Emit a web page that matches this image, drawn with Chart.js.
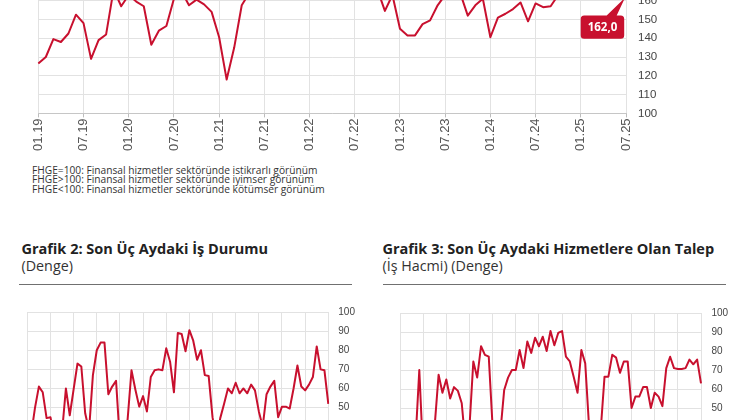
<!DOCTYPE html>
<html>
<head>
<meta charset="utf-8">
<script src="https://cdn.jsdelivr.net/npm/chart.js@4.4.1/dist/chart.umd.min.js"></script>
<style>
  html, body { margin:0; padding:0; background:#fff; }
  body { width:740px; height:420px; overflow:hidden; position:relative; font-family:'Open Sans', sans-serif; }
  canvas { position:absolute; }
  .notes { position:absolute; left:32px; top:165.8px; font-size:10.2px; line-height:9.4px; color:#333; white-space:nowrap; }
  .title { position:absolute; font-weight:700; font-size:14.5px; line-height:17px; color:#222; white-space:nowrap; }
  .sub { position:absolute; font-size:14.3px; line-height:17px; color:#333; white-space:nowrap; }
  .rule { position:absolute; height:0; border-top:1px solid #707070; }
</style>
</head>
<body>
<canvas id="c1" width="740" height="216" style="left:0;top:-57.4px;width:740px;height:216px;"></canvas>
<div class="notes">
  FHGE=100: Finansal hizmetler sektöründe istikrarlı görünüm<br>
  FHGE&gt;100: Finansal hizmetler sektöründe iyimser görünüm<br>
  FHGE&lt;100: Finansal hizmetler sektöründe kötümser görünüm
</div>
<div class="title" style="left:21.5px;top:239.5px;">Grafik 2: Son Üç Aydaki İş Durumu</div>
<div class="sub" style="left:21.5px;top:256.5px;">(Denge)</div>
<div class="rule" style="left:19px;top:283.5px;width:333px;"></div>
<div class="title" style="left:382.5px;top:239.5px;">Grafik 3: Son Üç Aydaki Hizmetlere Olan Talep</div>
<div class="sub" style="left:382.5px;top:256.5px;">(İş Hacmi) (Denge)</div>
<div class="rule" style="left:383px;top:283.5px;width:343px;"></div>
<canvas id="c3" width="370" height="250" style="left:370px;top:293.3px;width:370px;height:250px;"></canvas>
<canvas id="c2" width="370" height="262" style="left:0;top:286.7px;width:370px;height:262px;"></canvas>
<script>
// ---- categories (monthly, 01.19 - 07.25) ----
const months = [
 "01.19","02.19","03.19","04.19","05.19","06.19","07.19","08.19","09.19","10.19","11.19","12.19",
 "01.20","02.20","03.20","04.20","05.20","06.20","07.20","08.20","09.20","10.20","11.20","12.20",
 "01.21","02.21","03.21","04.21","05.21","06.21","07.21","08.21","09.21","10.21","11.21","12.21",
 "01.22","02.22","03.22","04.22","05.22","06.22","07.22","08.22","09.22","10.22","11.22","12.22",
 "01.23","02.23","03.23","04.23","05.23","06.23","07.23","08.23","09.23","10.23","11.23","12.23",
 "01.24","02.24","03.24","04.24","05.24","06.24","07.24","08.24","09.24","10.24","11.24","12.24",
 "01.25","02.25","03.25","04.25","05.25","06.25","07.25"
];

// ---- Grafik 1: FHGE ----
const fhge = [
 126.5,130,139.5,138,142.5,152.5,148,129,139,142,166,157,
 163,159.5,157,136.5,144,146.5,161,165,157.5,160.5,158,154,
 140.5,118,135,157.5,164,167,170,172,168,171,174,170,
 168,172,175,171,169,173,170,167,169,166,154.5,163,
 145,141.5,141.5,147.5,149.5,157.5,163,166,164,152,157.5,161,
 140.5,151,153,155.5,159,149,158.5,156.5,157,163,166,164,
 168,165,163,167,164,166,162
];

// ---- Grafik 2: Son Üç Aydaki İş Durumu (Denge) ----
const isDurumu = [
 32,36,50,61,58,44.5,45,34,30,37,60,46,
 59.5,73,71.5,47,38,67,80,84,84,57,61,64,
 32,28,44,69.5,59.5,50.5,56,48,66,69.5,70,69.5,
 81,74,58,89,88.5,79.5,90.5,85,75,80,67,66.5,
 45,32,44.5,52,60,57.5,63,57.5,60,57.5,62,59,
 48,40,57,61,64,45,50.5,50.5,49.5,60,72,61,
 59,62,66,82,70,69.5,52
];

// ---- Grafik 3: Son Üç Aydaki Hizmetlere Olan Talep (İş Hacmi) (Denge) ----
const talep = [
 35,38,33,30,32,70,25,30,32,41,67.5,58,
 65,55,61,59,52.5,30,40,74.5,66,82.5,78,77,
 40,30,37,59.5,66,70,70,80.5,71,85,79,87,
 82.5,87.5,80,90.5,83,89.5,90.5,77,74.5,66.5,58,80.5,
 73.5,40,32,30,38,66.5,66.5,78,76.5,68.5,74.5,74.5,
 50,56,56,61,61,50,58,56,51,71,77,71,
 70.5,70.5,71,75.5,73,75.5,63
];

const RED = '#c8102e';
const GRID = '#e2e2e2';
const isHalf = (i) => { const l = months[i]; return l && (l.startsWith('01.') || l.startsWith('07.')); };

Chart.defaults.font.family = "'Liberation Sans', Arial, sans-serif";

function baseOptions(o) {
  return {
    responsive:false, animation:false, devicePixelRatio:1,
    layout:{ padding:{ left:o.padLeft, right:0, top:o.padTop, bottom:0 } },
    plugins:{ legend:{display:false}, tooltip:{enabled:false} },
    elements:{ point:{ radius:0 }, line:{ borderWidth:2, tension:0, borderJoinStyle:'round' } },
    scales:{
      x:{
        type:'category',
        grid:{
          color:(c)=> isHalf(c.index) ? GRID : 'rgba(0,0,0,0)',
          tickColor:(c)=> isHalf(c.index) ? '#bdbdbd' : 'rgba(0,0,0,0)',
          tickLength:4, drawTicks:true
        },
        border:{ display:true, color:'#c6c6c6' },
        ticks:{
          autoSkip:false, maxRotation:90, minRotation:90, padding:1,
          color:'#555', font:{ size:o.xSize },
          callback:function(v,i){ return isHalf(i) ? months[i] : ''; }
        },
        afterFit:(s)=>{ s.height = o.xHeight; }
      },
      y:{
        position:'right', min:o.min, max:o.max,
        grid:{ color:GRID, drawTicks:false },
        border:{ display:false },
        ticks:{ stepSize:10, autoSkip:false, padding:o.yPad, color:'#444', font:{ size:o.ySize } },
        afterFit:(s)=>{ s.width = o.yWidth; }
      }
    }
  };
}

const calloutPlugin = {
  id:'callout',
  afterDatasetsDraw(chart){
    const meta = chart.getDatasetMeta(0);
    const pt = meta.data[meta.data.length-1];
    const val = chart.data.datasets[0].data[meta.data.length-1];
    const ctx = chart.ctx;
    const w = 43.5, h = 23.3, r = 3.5;
    const bx = pt.x - 45.3, by = pt.y + 18.6;
    ctx.save();
    ctx.fillStyle = RED;
    ctx.beginPath();
    ctx.moveTo(bx + r, by);
    ctx.lineTo(pt.x - 19.3, by);
    ctx.lineTo(pt.x - 1, pt.y + 1);
    ctx.lineTo(pt.x - 9.3, by);
    ctx.lineTo(bx + w - r, by);
    ctx.quadraticCurveTo(bx + w, by, bx + w, by + r);
    ctx.lineTo(bx + w, by + h - r);
    ctx.quadraticCurveTo(bx + w, by + h, bx + w - r, by + h);
    ctx.lineTo(bx + r, by + h);
    ctx.quadraticCurveTo(bx, by + h, bx, by + h - r);
    ctx.lineTo(bx, by + r);
    ctx.quadraticCurveTo(bx, by, bx + r, by);
    ctx.closePath();
    ctx.fill();
    ctx.fillStyle = '#fff';
    ctx.font = "700 11.5px 'Open Sans', sans-serif";
    ctx.textAlign = 'center';
    ctx.textBaseline = 'middle';
    ctx.fillText(val.toFixed(1).replace('.', ','), bx + w/2, by + h/2 + 0.5);
    ctx.restore();
  }
};

function makeChart(id, values, o, plugins) {
  return new Chart(document.getElementById(id), {
    type:'line',
    data:{ labels:months, datasets:[{ data:values, borderColor:RED, backgroundColor:RED, fill:false }] },
    options: baseOptions(o),
    plugins: plugins || []
  });
}

makeChart('c1', fhge, { padLeft:38.3, padTop:20, xHeight:45.6, xSize:13, min:100, max:180, yPad:12, ySize:11.5, yWidth:114 }, [calloutPlugin]);
makeChart('c2', isDurumu, { padLeft:27.3, padTop:25, xHeight:45.8, xSize:11, min:0, max:100, yPad:10, ySize:10, yWidth:41.7 });
makeChart('c3', talep, { padLeft:30, padTop:20, xHeight:40, xSize:11, min:0, max:100, yPad:10.5, ySize:10, yWidth:39 });
</script>
</body>
</html>
